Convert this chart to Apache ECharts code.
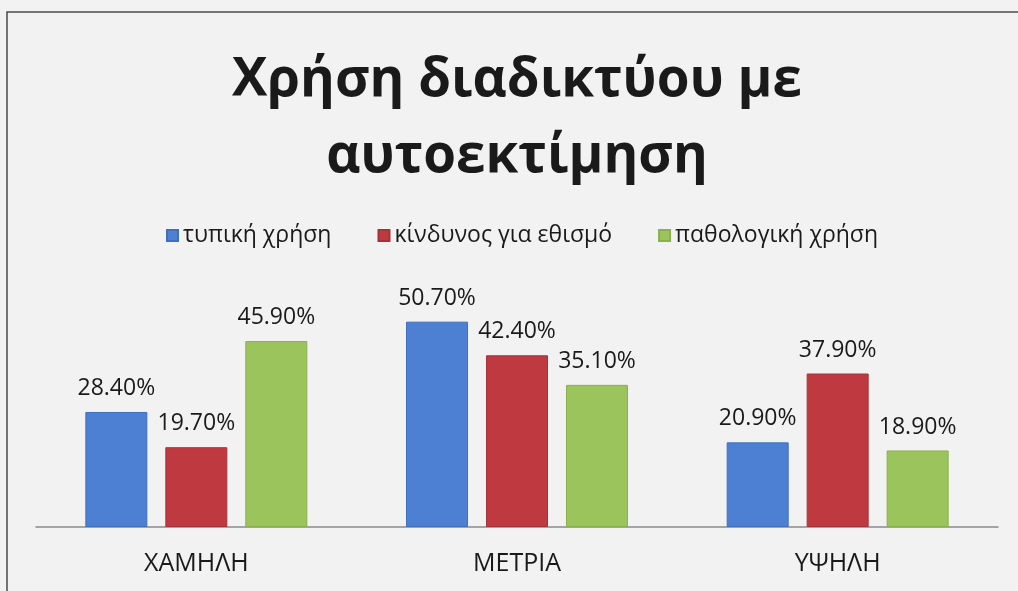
<!DOCTYPE html>
<html>
<head>
<meta charset="utf-8">
<script src="https://cdn.jsdelivr.net/npm/echarts@6/dist/echarts.min.js"></script>
<style>
html,body{margin:0;padding:0;background:#f1f2f1;}
#chart{width:1018px;height:591px;}
</style>
</head>
<body>
<div id="chart"></div>
<script>
const categories = ['ΧΑΜΗΛΗ', 'ΜΕΤΡΙΑ', 'ΥΨΗΛΗ'];
const seriesNames = ['τυπική χρήση', 'κίνδυνος για εθισμό', 'παθολογική χρήση'];
const typicalUse = [28.4, 50.7, 20.9];
const addictionRisk = [19.7, 42.4, 37.9];
const pathologicalUse = [45.9, 35.1, 18.9];
const titleText = 'Χρήση διαδικτύου με\nαυτοεκτίμηση';

const colors = ['#4d80d3', '#bf3a40', '#9cc45c'];
const borders = ['#3f6fbf', '#a8323a', '#8ab04c'];
const font = '"Open Sans", "Noto Sans", sans-serif';

const chart = echarts.init(document.getElementById('chart'));
const values = [typicalUse, addictionRisk, pathologicalUse];

chart.setOption({
  backgroundColor: '#f1f2f1',
  animation: false,
  title: {
    text: titleText,
    left: 512,
    textAlign: 'center',
    top: 38,
    textStyle: { fontFamily: font, fontSize: 53, fontWeight: 'bold', color: '#1a1a1a', lineHeight: 76 }
  },
  legend: {
    top: 219,
    left: 161,
    itemWidth: 11,
    itemHeight: 11,
    itemGap: 46,
    icon: 'rect',
    textStyle: { fontFamily: font, fontSize: 23, color: '#1a1a1a' },
    data: seriesNames
  },
  graphic: [{
    type: 'polyline',
    shape: { points: [[7, 600], [7, 12], [1030, 12]] },
    style: { stroke: '#4a4a4a', lineWidth: 1.5, fill: null }
  }],
  grid: { left: 36, right: 20, top: 284, bottom: 64 },
  xAxis: {
    type: 'category',
    data: categories,
    axisLine: { lineStyle: { color: '#8a8a8a', width: 1.5 } },
    axisTick: { show: false },
    axisLabel: { fontFamily: font, fontSize: 25, color: '#1a1a1a', margin: 24 }
  },
  yAxis: {
    type: 'value',
    min: 0,
    max: 60,
    show: false,
    splitLine: { show: false }
  },
  series: seriesNames.map((name, i) => ({
    name,
    type: 'bar',
    data: values[i],
    barWidth: 62,
    barGap: '29%',
    itemStyle: { color: colors[i], borderColor: borders[i], borderWidth: 1 },
    label: {
      show: true,
      position: 'top',
      distance: 12,
      fontFamily: font,
      fontSize: 23,
      color: '#1a1a1a',
      formatter: p => p.value.toFixed(2) + '%'
    }
  }))
});
</script>
</body>
</html>
